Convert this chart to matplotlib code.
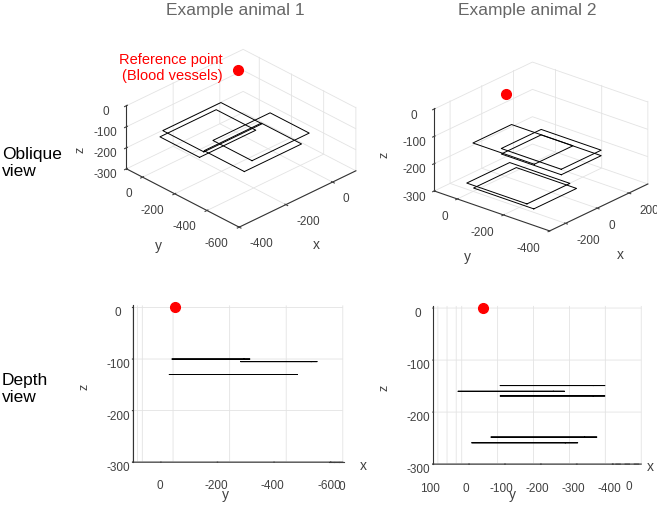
import numpy as np
import matplotlib
matplotlib.use('Agg')
import matplotlib.pyplot as plt

plt.rcParams['font.family'] = ['Liberation Sans', 'DejaVu Sans']
plt.rcParams['grid.color'] = '#e3e3e3'
plt.rcParams['grid.linewidth'] = 0.6
plt.rcParams['axes.unicode_minus'] = False

# Example animal 1: imaging planes (x / y extent and depth z), reference point
a1_x0 = [-336, -342, -240, -326]
a1_x1 = [-87, -101, 5, -81]
a1_y0 = [-288, -270, -448, -525]
a1_y1 = [-33, -24, -205, -275]
a1_z = [-100, -130, -130, -105]
a1_ref = [0, -15, 0]
a1_xlim = (-400, 100)
a1_ylim = (-600, 100)

# Example animal 2
a2_x0 = [-123, -113, -113, -282, -239]
a2_x1 = [121, 139, 139, -12, 32]
a2_y0 = [-212, -322, -322, -319, -260]
a2_y1 = [54, -62, -62, -58, 1]
a2_z = [-160, -149, -169, -248, -259]
a2_ref = [10, 0, 0]
a2_xlim = (-300, 320)
a2_ylim = (-400, 100)

zlim = (-300, 4)
zticks = [-300, -200, -100, 0]

GRID = '#e3e3e3'
AXC = '#333333'
TXT = '#404040'


def draw_panel(ax, x0s, x1s, y0s, y1s, zs, ref, xlim, ylim, elev, azim, aspect):
    ax.set_facecolor('none')
    for x0, x1, y0, y1, z in zip(x0s, x1s, y0s, y1s, zs):
        ax.plot([x0, x1, x1, x0, x0], [y0, y0, y1, y1, y0], [z] * 5, color='black', lw=0.7)
    ax.plot([ref[0]], [ref[1]], [ref[2]], 'o', color='red', ms=7, mec='red')
    ax.set_proj_type('ortho')
    ax.view_init(elev=elev, azim=azim)
    ax.set_xlim(xlim)
    ax.set_ylim(ylim)
    ax.set_zlim(zlim)
    ax.set_zticks(zticks)
    ax.set_box_aspect(aspect)
    for axis in (ax.xaxis, ax.yaxis, ax.zaxis):
        axis.set_pane_color((1, 1, 1, 0))
        axis.pane.set_edgecolor(GRID)
        axis.line.set_color(AXC)
        axis.line.set_linewidth(0.8)
    ax.tick_params(labelsize=8.5, colors=TXT, pad=0)


W, H = 657, 505
fig = plt.figure(figsize=(W / 100, H / 100), dpi=100)


def square_axes(cx, cy, size):
    return fig.add_axes([(cx - size / 2) / W, 1 - (cy + size / 2) / H, size / W, size / H],
                        projection='3d')


def axis_names(pos_x, pos_y, pos_z):
    # axis names placed where the 3D box puts them in the original figure
    for name, (px, py), rot in (('x', pos_x, 0), ('y', pos_y, 0), ('z', pos_z, 90)):
        fig.text(px / W, 1 - py / H, name, fontsize=10 if rot == 0 else 9, color=TXT,
                 rotation=rot, ha='center', va='center')


def oblique_ticks(ax):
    plt.setp(ax.get_xticklabels(), ha='left')
    plt.setp(ax.get_yticklabels(), ha='right')


def depth_ticks(ax):
    ax.set_xticklabels([''] * len(ax.get_xticks()))
    ax.tick_params(axis='y', pad=5)


# oblique views
ax1 = square_axes(238, 141, 234)
draw_panel(ax1, a1_x0, a1_x1, a1_y0, a1_y1, a1_z, a1_ref, a1_xlim, a1_ylim,
           30, -134, (1, 1, 0.455))
ax1.set_xticks([-400, -200, 0])
ax1.set_yticks([-600, -400, -200, 0])
oblique_ticks(ax1)

ax2 = square_axes(538, 149, 226)
draw_panel(ax2, a2_x0, a2_x1, a2_y0, a2_y1, a2_z, a2_ref, a2_xlim, a2_ylim,
           24, -139.6, (1, 1, 0.6))
ax2.set_xticks([-200, 0, 200])
ax2.set_yticks([-400, -200, 0])
oblique_ticks(ax2)

# depth views
ax3 = square_axes(233.5, 388, 312)
draw_panel(ax3, a1_x0, a1_x1, a1_y0, a1_y1, a1_z, a1_ref, a1_xlim, a1_ylim,
           0.01, -176.5, (1, 1, 0.79))
ax3.set_xticks([-400, -200, 0])
ax3.set_yticks([-600, -400, -200, 0])
depth_ticks(ax3)

ax4 = square_axes(533.3, 389, 293)
draw_panel(ax4, a2_x0, a2_x1, a2_y0, a2_y1, a2_z, a2_ref, a2_xlim, a2_ylim,
           0.01, -171, (1, 1, 0.87))
ax4.set_xticks([-200, 0, 200])
ax4.set_yticks([-400, -300, -200, -100, 0, 100])
depth_ticks(ax4)

axis_names((316, 245), (158, 246), (80, 150))
axis_names((620, 255), (467, 257), (385, 155))
axis_names((363, 466), (225, 495), (85, 387))
axis_names((650, 467), (512, 495), (385, 388))

# x axis seen edge-on in the depth views: only its 0 label shows
for px in (342, 629):
    fig.text(px / W, 1 - 487 / H, '0', fontsize=8.5, color=TXT, ha='center', va='center')

fig.text(235 / W, 1 - 10 / H, 'Example animal 1', fontsize=12.5, color='#666666',
         ha='center', va='center')
fig.text(527 / W, 1 - 10 / H, 'Example animal 2', fontsize=12.5, color='#666666',
         ha='center', va='center')
fig.text(2 / W, 1 - 163 / H, 'Oblique\nview', fontsize=12.5, color='black',
         ha='left', va='center', linespacing=1.1)
fig.text(2 / W, 1 - 389 / H, 'Depth\nview', fontsize=12.5, color='black',
         ha='left', va='center', linespacing=1.1)
fig.text(223 / W, 1 - 68 / H, 'Reference point\n(Blood vessels)', fontsize=10.5,
         color='red', ha='right', va='center', linespacing=1.1)

fig.savefig('out.png', dpi=100)
